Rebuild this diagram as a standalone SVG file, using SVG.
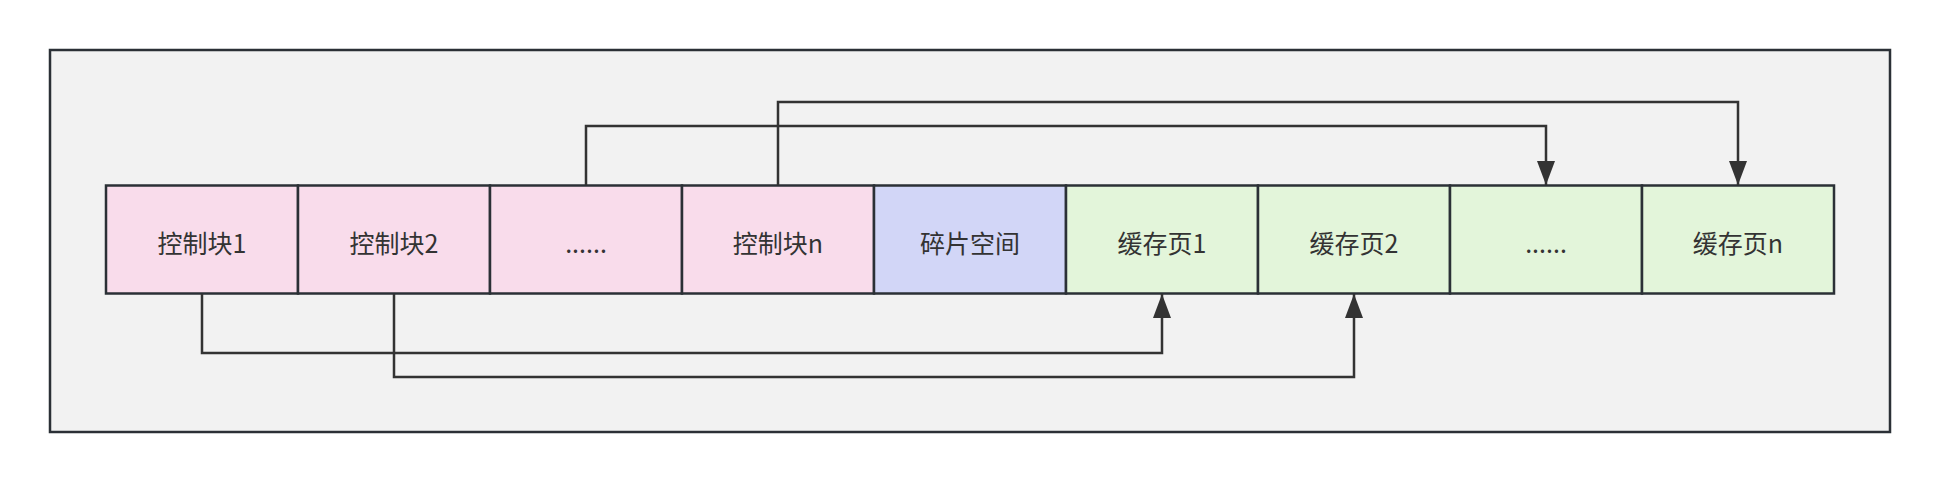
<svg xmlns="http://www.w3.org/2000/svg" width="1940" height="482" viewBox="0 0 1940 482">
<style>
.bx{stroke:#2b3036;stroke-width:2.5}
.pk{fill:#f9dceb}
.pu{fill:#d2d6f7}
.gr{fill:#e3f5da}
.t{font-family:"Noto Sans CJK SC","Noto Sans",sans-serif;font-size:25px;fill:#333;text-anchor:middle;dominant-baseline:central}
.c{fill:none;stroke:#333;stroke-width:2.5}
</style>
<defs>
<marker id="ah" viewBox="0 0 24 18" refX="24" refY="9" markerWidth="24" markerHeight="18" markerUnits="userSpaceOnUse" orient="auto">
<path d="M0,0 L24,9 L0,18 Z" fill="#333"/>
</marker>
</defs>
<rect width="1940" height="482" fill="#ffffff"/>
<rect id="container" x="50" y="50" width="1840" height="382" fill="#f2f2f2" stroke="#2b3036" stroke-width="2.5"/>
<g id="cb1"><rect class="bx pk" x="106" y="185.5" width="192" height="108"/><text class="t" x="202" y="242">控制块1</text></g>
<g id="cb2"><rect class="bx pk" x="298" y="185.5" width="192" height="108"/><text class="t" x="394" y="242">控制块2</text></g>
<g id="cbdots"><rect class="bx pk" x="490" y="185.5" width="192" height="108"/><text class="t" x="586" y="242">......</text></g>
<g id="cbn"><rect class="bx pk" x="682" y="185.5" width="192" height="108"/><text class="t" x="778" y="242">控制块n</text></g>
<g id="frag"><rect class="bx pu" x="874" y="185.5" width="192" height="108"/><text class="t" x="970" y="242">碎片空间</text></g>
<g id="cp1"><rect class="bx gr" x="1066" y="185.5" width="192" height="108"/><text class="t" x="1162" y="242">缓存页1</text></g>
<g id="cp2"><rect class="bx gr" x="1258" y="185.5" width="192" height="108"/><text class="t" x="1354" y="242">缓存页2</text></g>
<g id="cpdots"><rect class="bx gr" x="1450" y="185.5" width="192" height="108"/><text class="t" x="1546" y="242">......</text></g>
<g id="cpn"><rect class="bx gr" x="1642" y="185.5" width="192" height="108"/><text class="t" x="1738" y="242">缓存页n</text></g>
<g id="connectors">
<path class="c" d="M202,294 V353 H1162 V294" marker-end="url(#ah)"/>
<path class="c" d="M394,294 V377 H1354 V294" marker-end="url(#ah)"/>
<path class="c" d="M586,185 V126 H1546 V185" marker-end="url(#ah)"/>
<path class="c" d="M778,185 V102 H1738 V185" marker-end="url(#ah)"/>
</g>
</svg>
